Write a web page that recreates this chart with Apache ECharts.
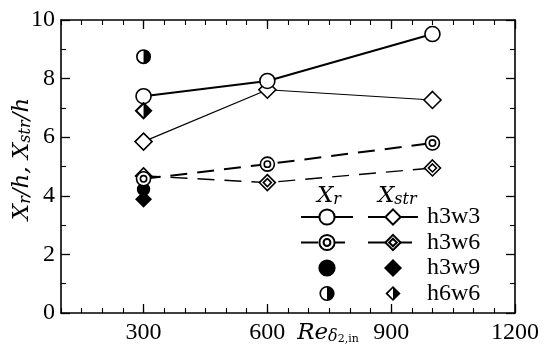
<!DOCTYPE html>
<html>
<head>
<meta charset="utf-8">
<script src="https://cdn.jsdelivr.net/npm/echarts@6/dist/echarts.min.js"></script>
<style>
  html, body { margin: 0; padding: 0; background: #fff; }
  #chart { width: 549px; height: 353px; }
</style>
</head>
<body>
<div id="chart"></div>
<script>
// Reynolds numbers of the cases
const reValues = [300, 600, 1000]
const reSingle = [300]
// reattachment length X_r/h and streak length X_str/h
const xrH3w3 = [7.4, 7.92, 9.52]
const xstrH3w3 = [5.85, 7.62, 7.27]
const xrH3w6 = [4.58, 5.08, 5.8]
const xstrH3w6 = [4.68, 4.45, 4.95]
const xrH3w9 = [4.22]
const xstrH3w9 = [3.88]
const xrH6w6 = [8.75]
const xstrH6w6 = [6.9]
// axis ticks
const xTickLabels = [300, 600, 900, 1200]
const caseNames = ['h3w3', 'h3w6', 'h3w9', 'h6w6']

const FONT = 'Liberation Serif'
const NAME_FONT = 'DejaVu Serif'

// marker shapes (0..20 box)
const dblCircle = 'path://M10,0A10,10,0,1,1,10,20A10,10,0,1,1,10,0ZM10,5.5A4.5,4.5,0,1,1,10,14.5A4.5,4.5,0,1,1,10,5.5Z'
const dblDiamond = 'path://M10,0L20,10L10,20L0,10ZM10,5L15,10L10,15L5,10Z'
const halfCircle = 'path://M10,0A10,10,0,1,1,10,20A10,10,0,1,1,10,0ZM10,2.2A7.8,7.8,0,1,0,10,17.8A7.8,7.8,0,1,0,10,2.2ZM10,2.2A7.8,7.8,0,0,1,10,17.8Z'
const halfDiamond = 'path://M10,0L20,10L10,20L0,10ZM10,3.2L3.2,10L10,16.8L16.8,10ZM10,3.2L16.8,10L10,16.8Z'

const zip = (xs, ys) => ys.map((y, i) => [xs[i], y])

function lineSeries(name, data, symbol, size, fill, border, lineStyle) {
  return {
    name: name,
    type: 'line',
    data: data,
    symbol: symbol,
    symbolSize: size,
    showAllSymbol: true,
    silent: true,
    itemStyle: {
      color: fill,
      borderColor: '#000',
      borderWidth: border,
      opacity: 1,
    },
    lineStyle: lineStyle,
    emphasis: { disabled: true },
  }
}

const noLine = { width: 0, opacity: 0 }

const series = [
  lineSeries('Xstr-h3w9', zip(reSingle, xstrH3w9), 'diamond', 15, '#000', 1.4, noLine),
  lineSeries('Xr-h3w9', zip(reSingle, xrH3w9), 'circle', 12, '#000', 1.4, noLine),
  lineSeries('Xstr-h3w6', zip(reValues, xstrH3w6), dblDiamond, 16, '#fff', 1.6, { color: '#000', width: 1.4, type: [17, 10] }),
  lineSeries('Xr-h3w6', zip(reValues, xrH3w6), dblCircle, 14, '#fff', 1.6, { color: '#000', width: 2, type: [17, 10] }),
  lineSeries('Xstr-h3w3', zip(reValues, xstrH3w3), 'diamond', 17, '#fff', 1.6, { color: '#000', width: 1.2 }),
  lineSeries('Xr-h3w3', zip(reValues, xrH3w3), 'circle', 15, '#fff', 1.6, { color: '#000', width: 2 }),
  lineSeries('Xr-h6w6', zip(reSingle, xrH6w6), halfCircle, 15, '#000', 0, noLine),
  lineSeries('Xstr-h6w6', zip(reSingle, xstrH6w6), halfDiamond, 18, '#000', 0, noLine),
]

const axisLine = { show: true, lineStyle: { color: '#000', width: 1.6 } }
const richText = {
  i: { fontFamily: NAME_FONT, fontStyle: 'italic', fontSize: 23, color: '#000', lineHeight: 23, verticalAlign: 'top' },
  s: { fontFamily: NAME_FONT, fontStyle: 'italic', fontSize: 16, color: '#000', lineHeight: 16, padding: [10, 0, 0, 0], verticalAlign: 'bottom' },
  u: { fontFamily: NAME_FONT, fontSize: 11, color: '#000', lineHeight: 11, padding: [17, 0, 0, 0], verticalAlign: 'bottom' },
}

function xAxisMajor(pos, showLabel) {
  return {
    type: 'value',
    position: pos,
    min: 100,
    max: 1200,
    axisLine: axisLine,
    splitLine: { show: false },
    axisTick: { inside: true, length: 9, customValues: xTickLabels, lineStyle: { color: '#000', width: 1.3 } },
    axisLabel: {
      show: showLabel,
      customValues: xTickLabels,
      formatter: (v) => String(v),
      margin: 8,
      fontFamily: FONT,
      fontSize: 24,
      color: '#000',
    },
  }
}
function xAxisMinor(pos) {
  return {
    type: 'value',
    position: pos,
    min: 100,
    max: 1200,
    interval: 50,
    axisLine: { show: false },
    splitLine: { show: false },
    axisTick: { inside: true, length: 5, lineStyle: { color: '#000', width: 1.1 } },
    axisLabel: { show: false },
  }
}
function yAxis(pos, showLabel) {
  return {
    type: 'value',
    position: pos,
    min: 0,
    max: 10,
    interval: 2,
    axisLine: axisLine,
    splitLine: { show: false },
    axisTick: { inside: true, length: 9, lineStyle: { color: '#000', width: 1.3 } },
    minorTick: { show: true, splitNumber: 2, length: 5, lineStyle: { color: '#000', width: 1.1 } },
    minorSplitLine: { show: false },
    axisLabel: { show: showLabel, margin: 6, fontFamily: FONT, fontSize: 24, color: '#000' },
  }
}

const legendBase = {
  orient: 'vertical',
  padding: 0,
  itemHeight: 19,
  itemGap: 1.5,
  selectedMode: false,
  inactiveColor: '#000',
  textStyle: { fontFamily: FONT, fontSize: 24, color: '#000', lineHeight: 24, padding: [0, 0, 0, 4] },
}

const xAxis0 = xAxisMajor('bottom', true)
xAxis0.name = '{i|Re}{s|δ}{u|2,in}'
xAxis0.nameLocation = 'middle'
xAxis0.nameGap = 9
xAxis0.nameMoveOverlap = false
xAxis0.nameTextStyle = { rich: richText, verticalAlign: 'top', padding: [0, 0, 0, 80] }

const yAxis0 = yAxis('left', true)
yAxis0.name = '{i|X}{s|r}{i|/h, X}{s|str}{i|/h}'
yAxis0.nameLocation = 'middle'
yAxis0.nameGap = 27
yAxis0.nameMoveOverlap = false
yAxis0.nameTextStyle = { rich: richText, padding: [0, 0, 0, 15] }

const option = {
  animation: false,
  backgroundColor: '#fff',
  textStyle: { fontFamily: FONT },
  grid: { left: 61, right: 34, top: 20, bottom: 40, outerBoundsMode: 'none', containLabel: false },
  xAxis: [xAxis0, xAxisMinor('bottom'), xAxisMajor('top', false), xAxisMinor('top')],
  yAxis: [yAxis0, yAxis('right', false)],
  legend: [
    Object.assign({}, legendBase, {
      left: 300,
      top: 205,
      itemWidth: 52,
      data: caseNames.map((c) => 'Xr-' + c),
      formatter: () => ' ',
    }),
    Object.assign({}, legendBase, {
      left: 367,
      top: 205,
      itemWidth: 50,
      data: caseNames.map((c) => 'Xstr-' + c),
      formatter: (name) => name.split('-')[1],
    }),
  ],
  graphic: [
    { type: 'text', left: 317, top: 182, style: { text: '{i|X}{s|r}', rich: richText } },
    { type: 'text', left: 378, top: 182, style: { text: '{i|X}{s|str}', rich: richText } },
  ],
  series: series,
}

const chart = echarts.init(document.getElementById('chart'), null, { renderer: 'canvas' })
chart.setOption(option)
</script>
</body>
</html>
